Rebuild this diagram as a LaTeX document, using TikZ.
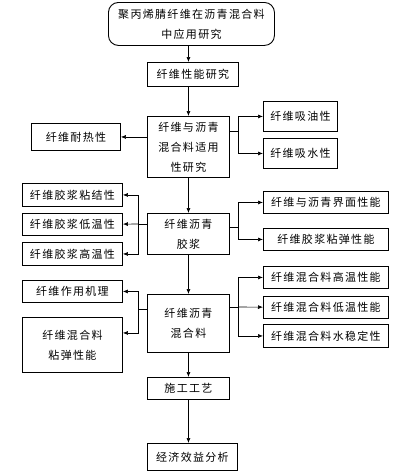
\documentclass[tikz,border=0pt]{standalone}
\usepackage{fontspec}
\newfontfamily\cjk[LetterSpace=12]{Noto Sans CJK SC}
\usetikzlibrary{arrows.meta}

\begin{document}
\begin{tikzpicture}[x=1pt,y=-1pt,
        box/.style={draw,line width=0.9pt,anchor=north west,inner sep=0pt,align=center,
            font=\cjk\fontsize{11}{20}\selectfont},
        link/.style={line width=0.6pt},
        arr/.style={link,-{Latex[length=5pt,width=4pt]}}]
    \useasboundingbox (0,0) rectangle (410,474);
    % Main column:
    % Boxes are placed by their top left corner, in pixel units of the page
    \node[box,rounded corners=10pt,minimum width=166pt,minimum height=43pt] (top) at (108,2) {聚丙烯腈纤维在沥青混合料\\中应用研究};
    \node[box,minimum width=91pt,minimum height=24pt] (b2) at (147,62)  {纤维性能研究};
    \node[box,minimum width=82pt,minimum height=61pt] (b3) at (147,116) {纤维与沥青\\混合料适用\\性研究};
    \node[box,minimum width=82pt,minimum height=41pt] (b4) at (147,213) {纤维沥青\\胶浆};
    \node[box,minimum width=82pt,minimum height=58pt] (b5) at (147,294) {纤维沥青\\混合料};
    \node[box,minimum width=82pt,minimum height=22pt] (b6) at (147,377) {施工工艺};
    \node[box,minimum width=90pt,minimum height=27pt] (b7) at (147,443) {经济效益分析};

    % Side boxes:
    \node[box,minimum width=74pt,minimum height=30pt]  (oil)   at (263,101) {纤维吸油性};
    \node[box,minimum width=74pt,minimum height=30pt]  (water) at (263,138) {纤维吸水性};
    \node[box,minimum width=89pt,minimum height=27pt]  (heat)  at (31,123)  {纤维耐热性};
    \node[box,minimum width=100pt,minimum height=23pt] (bond)  at (22,183)  {纤维胶浆粘结性};
    \node[box,minimum width=100pt,minimum height=22pt] (low)   at (22,213)  {纤维胶浆低温性};
    \node[box,minimum width=100pt,minimum height=23pt] (high)  at (22,242)  {纤维胶浆高温性};
    \node[box,minimum width=125pt,minimum height=22pt] (iface) at (263,191) {纤维与沥青界面性能};
    \node[box,minimum width=125pt,minimum height=22pt] (visc)  at (263,228) {纤维胶浆粘弹性能};
    \node[box,minimum width=100pt,minimum height=22pt] (mech)  at (22,280)  {纤维作用机理};
    \node[box,minimum width=100pt,minimum height=55pt] (mixvisc) at (22,317) {纤维混合料\\粘弹性能};
    \node[box,minimum width=125pt,minimum height=22pt] (hot)   at (263,266) {纤维混合料高温性能};
    \node[box,minimum width=125pt,minimum height=22pt] (cold)  at (263,296) {纤维混合料低温性能};
    \node[box,minimum width=125pt,minimum height=23pt] (wet)   at (263,324) {纤维混合料水稳定性};

    % Downward arrows of the main column:
    \draw[arr] (top.south -| b3) -- (b2.north -| b3);
    \draw[arr] (b2.south -| b3) -- (b3);
    \draw[arr] (b3) -- (b4);
    \draw[arr] (b4) -- (b5);
    \draw[arr] (b5) -- (b6);
    \draw[arr] (b6) -- (b6 |- b7.north);

    % Branches:
    % Each branch leaves its box to a junction and forks from there with `|-`
    \coordinate (j3r) at (238,131);
    \draw[link] (b3.east |- j3r) -- (j3r);
    \draw[arr] (j3r) |- (oil);
    \draw[arr] (j3r) |- (water);
    \draw[arr] (b3.west |- heat) -- (heat);

    \coordinate (j4l) at (138,224);
    \draw[link] (b4.west |- j4l) -- (j4l);
    \draw[arr] (j4l) |- (bond);
    \draw[arr] (j4l) -- (low);
    \draw[arr] (j4l) |- (high);
    \coordinate (j4r) at (238,227);
    \draw[link] (b4.east |- j4r) -- (j4r);
    \draw[arr] (j4r) |- (iface);
    \draw[arr] (j4r) |- (visc);

    \coordinate (j5l) at (138,309);
    \draw[link] (b5.west |- j5l) -- (j5l);
    \draw[arr] (j5l) |- (mech);
    \draw[arr] (j5l) |- ([yshift=12pt]mixvisc.east);
    \coordinate (j5r) at (238,307);
    \draw[link] (b5.east |- j5r) -- (j5r);
    \draw[arr] (j5r) |- (hot);
    \draw[arr] (j5r) -- (cold);
    \draw[arr] (j5r) |- (wet);
\end{tikzpicture}
\end{document}
